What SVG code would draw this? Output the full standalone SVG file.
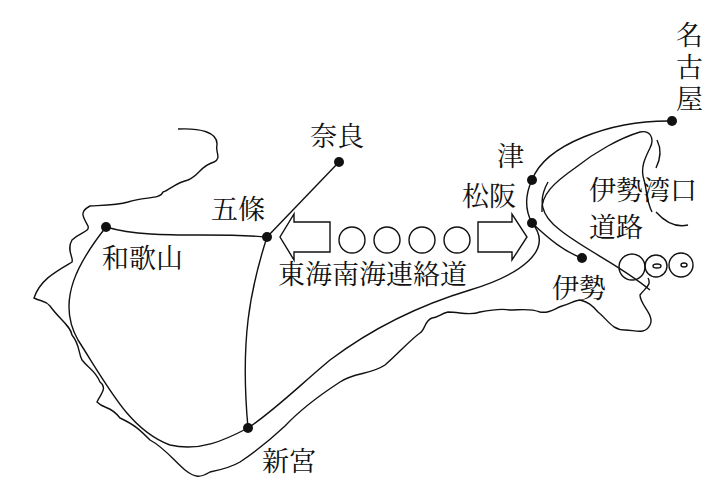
<svg xmlns="http://www.w3.org/2000/svg" width="720" height="496" viewBox="0 0 720 496">
<style>
.l{fill:none;stroke:#111;stroke-width:1.4}
.d{fill:#111}
text{font-family:"Liberation Serif","Noto Serif CJK JP","Noto Sans CJK JP",serif;font-size:27px;fill:#111}
</style>
<rect width="720" height="496" fill="#fff"/>
<g id="coast">
<path class="l" d="M178,129 C200,128 218,132 217,145 C215,152 222,158 214,162 C200,166 200,175 188,180 C175,183 170,190 163,192 C160,200 145,196 128,202 C118,205 110,205 90,206 C78,212 84,218 88,226 C90,232 80,232 72,240 C66,250 74,258 72,262 C55,272 40,280 34,298 C42,302 45,300 50,306 C60,320 70,325 72,335 C80,345 78,352 82,360 C90,370 95,370 100,382 C108,388 100,395 97,402 C105,410 110,405 120,418 C135,425 140,430 150,440 C165,448 175,462 185,470 C195,478 200,478 210,472 C220,470 230,468 240,462 C255,452 270,440 285,426 C300,410 320,395 340,382 C355,372 370,375 385,365 C400,352 410,340 420,333 C425,330 425,320 432,318 C438,318 440,314 448,312 C460,312 470,316 480,312 C490,310 500,308 510,310 C520,310 530,308 540,312 C550,314 555,308 562,306 C570,304 575,300 580,300 C588,302 592,305 598,312 C608,320 612,330 625,330 C635,330 645,335 650,325 C655,315 640,305 640,295 C645,288 652,285 648,278"/>
<path class="l" d="M542,212 C540,195 555,182 575,168 C595,152 620,138 640,132 C650,130 655,138 650,148 C645,158 640,168 644,180 C647,190 646,200 652,212"/>
<path class="l" d="M656,212 C665,222 675,228 688,225"/>
<path class="l" d="M657,140 C662,150 660,160 656,168"/>
</g>
<g id="connectors">
<path class="l" d="M106,227 C150,240 210,232 267,237"/>
<path class="l" d="M106,227 C80,260 55,300 78,340 C110,390 130,430 170,445 C200,452 225,440 248,428"/>
<path class="l" d="M267,237 C250,290 240,340 248,428"/>
<path class="l" d="M267,237 L339,162"/>
<path class="l" d="M672,121 C610,120 545,145 532,180 C525,195 525,210 532,223"/>
<path class="l" d="M532,223 C555,250 520,275 470,290 C420,305 370,330 330,360 C300,385 275,410 248,428"/>
<path class="l" d="M532,223 C550,240 565,252 582,258"/>
<path class="l" d="M548,182 C538,200 540,215 560,230 C585,250 620,265 650,290"/>
<path class="l" d="M330,222 L294,222 L294,214 L280,237 L294,260 L294,252 L330,252 Z"/>
<path class="l" d="M478,222 L512,222 L512,214 L527,237 L512,260 L512,252 L478,252 Z"/>
<circle class="l" cx="352" cy="240" r="13"/>
<circle class="l" cx="387" cy="240" r="13"/>
<circle class="l" cx="422" cy="240" r="13"/>
<circle class="l" cx="457" cy="240" r="13"/>
<circle class="l" cx="632" cy="267" r="13"/>
<circle class="l" cx="656" cy="266" r="11"/>
<circle class="l" cx="681" cy="265" r="12"/>
<ellipse class="l" cx="657" cy="266" rx="4" ry="2"/>
<ellipse class="l" cx="684" cy="265" rx="3" ry="2"/>
</g>
<g id="n-wakayama"><circle class="d" cx="106" cy="227" r="5"/><text x="102" y="268">和歌山</text></g>
<g id="n-gojo"><circle class="d" cx="267" cy="237" r="5"/><text x="211" y="219">五條</text></g>
<g id="n-nara"><circle class="d" cx="339" cy="162" r="5"/><text x="310" y="146">奈良</text></g>
<g id="n-shingu"><circle class="d" cx="248" cy="428" r="5"/><text x="262" y="471">新宮</text></g>
<g id="n-tsu"><circle class="d" cx="532" cy="180" r="5"/><text x="497" y="166">津</text></g>
<g id="n-matsusaka"><circle class="d" cx="532" cy="223" r="5"/><text x="462" y="206">松阪</text></g>
<g id="n-ise"><circle class="d" cx="582" cy="258" r="5"/><text x="552" y="298">伊勢</text></g>
<g id="n-nagoya"><circle class="d" cx="672" cy="121" r="5"/><text x="676" y="45">名</text><text x="676" y="77">古</text><text x="676" y="109">屋</text></g>
<g id="labels"><text x="278" y="284">東海南海連絡道</text><text x="589" y="200">伊勢湾口</text><text x="589" y="237">道路</text></g>
</svg>
